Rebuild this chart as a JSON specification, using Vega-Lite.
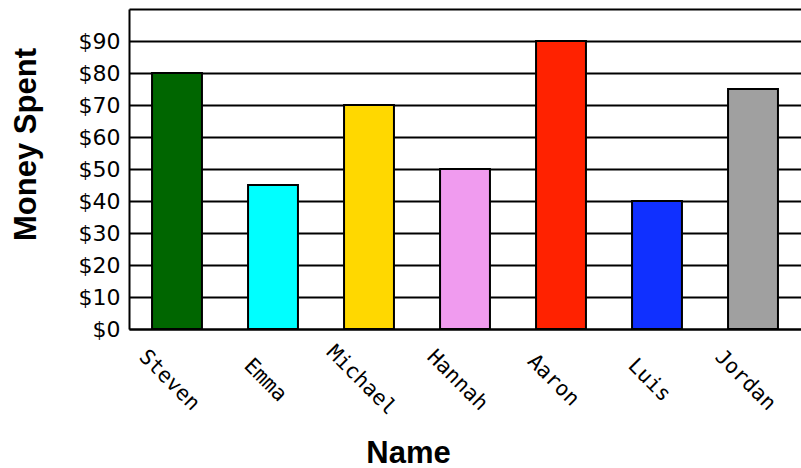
{
  "$schema": "https://vega.github.io/schema/vega-lite/v6.json",
  "autosize": {"type": "none"},
  "padding": {"left": 129, "top": 9, "right": 0, "bottom": 139},
  "width": 672,
  "height": 320,
  "background": "white",
  "data": {
    "values": [
      {"name": "Steven", "spent": 80},
      {"name": "Emma", "spent": 45},
      {"name": "Michael", "spent": 70},
      {"name": "Hannah", "spent": 50},
      {"name": "Aaron", "spent": 90},
      {"name": "Luis", "spent": 40},
      {"name": "Jordan", "spent": 75}
    ]
  },
  "mark": {"type": "bar", "stroke": "black", "strokeWidth": 2, "opacity": 1},
  "encoding": {
    "x": {
      "field": "name",
      "type": "nominal",
      "sort": null,
      "scale": {"paddingInner": 0.48, "paddingOuter": 0.24},
      "axis": {
        "title": "Name",
        "titleFont": "Liberation Sans",
        "titleFontSize": 31,
        "titleFontWeight": "bold",
        "titleColor": "black",
        "titleX": 279,
        "titleY": 133,
        "titleAlign": "center",
        "titleBaseline": "alphabetic",
        "labelAngle": 45,
        "labelAlign": "center",
        "labelBaseline": "middle",
        "labelOffset": -8,
        "labelPadding": 51,
        "labelFont": "DejaVu Sans Mono",
        "labelFontSize": 21,
        "labelColor": "black",
        "labelOverlap": false,
        "labelBound": false,
        "labelFlush": false,
        "ticks": false,
        "tickSize": 0,
        "domain": true,
        "domainColor": "black",
        "domainWidth": 2,
        "grid": false
      }
    },
    "y": {
      "field": "spent",
      "type": "quantitative",
      "scale": {"domain": [0, 100], "nice": false},
      "axis": {
        "title": "Money Spent",
        "titleFont": "Liberation Sans",
        "titleFontSize": 31,
        "titleFontWeight": "bold",
        "titleColor": "black",
        "titleAngle": -90,
        "titleX": -103,
        "titleY": 135,
        "titleAlign": "center",
        "titleBaseline": "middle",
        "values": [0, 10, 20, 30, 40, 50, 60, 70, 80, 90, 100],
        "labelExpr": "datum.value == 100 ? '' : '$' + datum.value",
        "labelFont": "DejaVu Sans",
        "labelFontSize": 22,
        "labelColor": "black",
        "labelPadding": 9,
        "labelBaseline": "middle",
        "labelFlush": false,
        "labelOverlap": false,
        "ticks": false,
        "tickSize": 0,
        "domain": true,
        "domainColor": "black",
        "domainWidth": 2,
        "grid": true,
        "gridColor": "black",
        "gridWidth": 2,
        "gridOpacity": 1
      }
    },
    "color": {
      "field": "name",
      "type": "nominal",
      "legend": null,
      "scale": {
        "domain": ["Steven", "Emma", "Michael", "Hannah", "Aaron", "Luis", "Jordan"],
        "range": ["#006600", "#00ffff", "#ffd800", "#f09bef", "#ff2200", "#1030ff", "#a0a0a0"]
      }
    }
  },
  "config": {
    "view": {"stroke": null},
    "axis": {"zindex": 0}
  }
}
